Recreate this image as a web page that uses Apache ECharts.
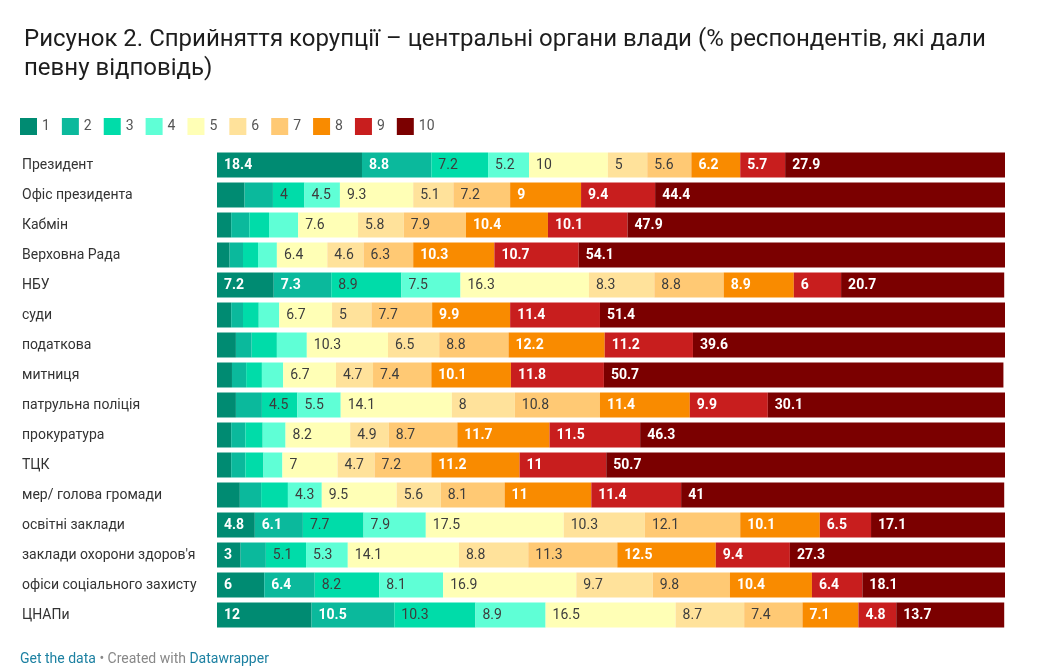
<!DOCTYPE html>
<html>
<head>
<meta charset="utf-8">
<script src="https://cdn.jsdelivr.net/npm/echarts@6/dist/echarts.min.js"></script>
<style>
html,body{margin:0;padding:0;background:#fff;}
#chart{width:1038px;height:671px;}
</style>
</head>
<body>
<div id="chart"></div>
<script>
const categories = ["Президент","Офіс президента","Кабмін","Верховна Рада","НБУ","суди","податкова","митниця","патрульна поліція","прокуратура","ТЦК","мер/ голова громади","освітні заклади","заклади охорони здоров'я","офіси соціального захисту","ЦНАПи"];
const levels = ["1","2","3","4","5","6","7","8","9","10"];
const s1  = [18.4, 3.5, 1.8, 1.6, 7.2, 1.8, 2.4, 1.9, 2.4, 1.8, 1.8, 2.9, 4.8, 3, 6, 12];
const s2  = [8.8, 3.6, 2.3, 1.7, 7.3, 1.5, 2.0, 1.8, 3.3, 1.8, 1.8, 2.7, 6.1, 3.2, 6.4, 10.5];
const s3  = [7.2, 4, 2.5, 1.9, 8.9, 2.0, 3.2, 2.0, 4.5, 2.2, 2.3, 3.4, 7.7, 5.1, 8.2, 10.3];
const s4  = [5.2, 4.5, 3.7, 2.4, 7.5, 2.6, 3.8, 2.7, 5.5, 2.9, 2.4, 4.3, 7.9, 5.3, 8.1, 8.9];
const s5  = [10, 9.3, 7.6, 6.4, 16.3, 6.7, 10.3, 6.7, 14.1, 8.2, 7, 9.5, 17.5, 14.1, 16.9, 16.5];
const s6  = [5, 5.1, 5.8, 4.6, 8.3, 5, 6.5, 4.7, 8, 4.9, 4.7, 5.6, 10.3, 8.8, 9.7, 8.7];
const s7  = [5.6, 7.2, 7.9, 6.3, 8.8, 7.7, 8.8, 7.4, 10.8, 8.7, 7.2, 8.1, 12.1, 11.3, 9.8, 7.4];
const s8  = [6.2, 9, 10.4, 10.3, 8.9, 9.9, 12.2, 10.1, 11.4, 11.7, 11.2, 11, 10.1, 12.5, 10.4, 7.1];
const s9  = [5.7, 9.4, 10.1, 10.7, 6, 11.4, 11.2, 11.8, 9.9, 11.5, 11, 11.4, 6.5, 9.4, 6.4, 4.8];
const s10 = [27.9, 44.4, 47.9, 54.1, 20.7, 51.4, 39.6, 50.7, 30.1, 46.3, 50.7, 41, 17.1, 27.3, 18.1, 13.7];
const seriesValues = [s1, s2, s3, s4, s5, s6, s7, s8, s9, s10];

const colors = ['#008b72','#0bb99c','#00dca9','#5fffd6','#ffffb6','#ffe29b','#ffc974','#f98b00','#c81e1e','#7b0000'];
const darkLabel = [true, true, false, false, false, false, false, true, true, true];

const pxPerUnit = 788 / 100;
function textW(s){ let w=0; for (const c of s){ w += (c==='.') ? 4 : 8; } return w; }

const chart = echarts.init(document.getElementById('chart'), null, {renderer:'canvas'});
const series = levels.map((name, i) => ({
  name: name,
  type: 'bar',
  stack: 'total',
  barCategoryGap: '16.7%',
  data: seriesValues[i],
  itemStyle: { color: colors[i] },
  emphasis: { disabled: true },
  label: {
    show: true,
    position: 'insideLeft',
    distance: 7,
    fontFamily: 'Roboto',
    fontSize: 14,
    color: darkLabel[i] ? '#ffffff' : '#3d3d3d',
    fontWeight: darkLabel[i] ? 'bold' : 'normal',
    formatter: function(p){
      const s = String(p.value);
      return (p.value >= 3 && p.value * pxPerUnit > textW(s) + 11) ? s : '';
    }
  }
}));

chart.setOption({
  animation: false,
  color: colors,
  title: {
    text: 'Рисунок 2. Сприйняття корупції – центральні органи влади (% респондентів, які дали\nпевну відповідь)',
    left: 19, top: 20,
    textStyle: { fontFamily: 'Roboto', fontSize: 24, fontWeight: 'normal', color: '#1d1d1d', lineHeight: 29 }
  },
  legend: {
    data: levels,
    left: 20, top: 118,
    icon: 'rect',
    itemWidth: 17, itemHeight: 17,
    itemGap: 12,
    padding: 0,
    selectedMode: false,
    textStyle: { fontFamily: 'Roboto', fontSize: 14, color: '#555' }
  },
  grid: { left: 217, right: 33, top: 150, height: 480, containLabel: false },
  xAxis: {
    type: 'value', min: 0, max: 100,
    show: false
  },
  yAxis: {
    type: 'category', data: categories, inverse: true,
    axisLine: { show: false }, axisTick: { show: false }, splitLine: { show: false },
    axisLabel: { align: 'left', margin: 195, fontFamily: 'Roboto', fontSize: 14, color: '#333' }
  },
  graphic: [{
    type: 'text', left: 20, top: 652,
    style: {
      text: '{a|Get the data}{b| • Created with }{a|Datawrapper}',
      rich: {
        a: { fontFamily: 'Roboto', fontSize: 14, fill: '#1d81a2' },
        b: { fontFamily: 'Roboto', fontSize: 14, fill: '#888888' }
      }
    }
  }],
  series: series
});
</script>
</body>
</html>
